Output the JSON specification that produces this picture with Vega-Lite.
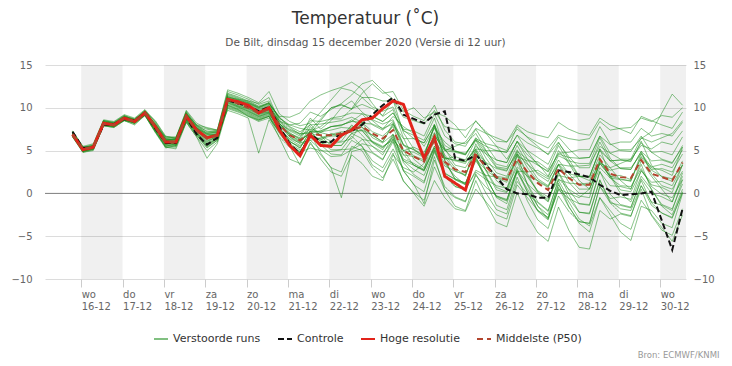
{
  "$schema": "https://vega.github.io/schema/vega-lite/v6.json",
  "width": 641,
  "height": 214,
  "autosize": "none",
  "padding": {"left": 45, "top": 65, "right": 46, "bottom": 87},
  "background": "white",
  "config": {"view": {"stroke": null}, "font": "DejaVu Sans"},
  "title": {
    "text": "Temperatuur (˚C)",
    "subtitle": "De Bilt, dinsdag 15 december 2020 (Versie di 12 uur)",
    "anchor": "middle",
    "frame": "group",
    "font": "DejaVu Sans",
    "fontSize": 17,
    "fontWeight": "normal",
    "color": "#333333",
    "subtitleFont": "DejaVu Sans",
    "subtitleFontSize": 10.5,
    "subtitleColor": "#555555",
    "subtitlePadding": 10,
    "offset": 11
  },
  "datasets": {
    "bands": [
      {"s": 0, "e": 24}, {"s": 48, "e": 72}, {"s": 96, "e": 120}, {"s": 144, "e": 168},
      {"s": 192, "e": 216}, {"s": 240, "e": 264}, {"s": 288, "e": 312}, {"s": 336, "e": 351}
    ],
    "ctl": [
      {"h":-5,"v":7.2},{"h":1,"v":5.3},{"h":7,"v":5.4},{"h":13,"v":8.0},{"h":19,"v":8.1},{"h":25,"v":8.7},{"h":31,"v":8.5},{"h":37,"v":9.4},
      {"h":43,"v":7.6},{"h":49,"v":5.9},{"h":55,"v":5.9},{"h":61,"v":8.9},{"h":67,"v":6.9},{"h":73,"v":5.7},{"h":79,"v":6.5},
      {"h":85,"v":10.9},{"h":91,"v":10.5},{"h":97,"v":10.2},{"h":103,"v":9.6},{"h":109,"v":10.1},
      {"h":115,"v":7.8},{"h":121,"v":5.8},{"h":127,"v":4.6},{"h":133,"v":6.9},
      {"h":139,"v":6.0},{"h":145,"v":6.0},{"h":151,"v":7.1},{"h":157,"v":7.3},
      {"h":163,"v":8.0},{"h":169,"v":9.2},{"h":175,"v":10.3},{"h":181,"v":11.2},
      {"h":187,"v":9.2},{"h":193,"v":8.7},{"h":199,"v":8.2},{"h":205,"v":9.2},
      {"h":211,"v":9.6},{"h":217,"v":4.1},{"h":223,"v":3.8},{"h":229,"v":4.5},
      {"h":235,"v":3.3},{"h":241,"v":1.9},{"h":247,"v":0.5},{"h":253,"v":0.0},
      {"h":259,"v":-0.1},{"h":265,"v":-0.5},{"h":271,"v":-0.5},{"h":277,"v":2.7},
      {"h":283,"v":2.5},{"h":289,"v":2.2},{"h":295,"v":1.9},{"h":301,"v":1.0},
      {"h":307,"v":0.3},{"h":313,"v":-0.2},{"h":319,"v":-0.1},{"h":325,"v":0.0},
      {"h":331,"v":0.2},{"h":337,"v":-3.2},{"h":343,"v":-6.6},{"h":349,"v":-1.8}
    ],
    "hres": [
      {"h":-5,"v":6.9},{"h":1,"v":5.1},{"h":7,"v":5.4},{"h":13,"v":8.2},{"h":19,"v":8.0},{"h":25,"v":8.8},{"h":31,"v":8.4},{"h":37,"v":9.4},
      {"h":43,"v":7.8},{"h":49,"v":6.0},{"h":55,"v":6.0},{"h":61,"v":9.0},{"h":67,"v":7.4},{"h":73,"v":6.5},{"h":79,"v":6.8},
      {"h":85,"v":11.0},{"h":91,"v":10.7},{"h":97,"v":10.3},{"h":103,"v":9.4},{"h":109,"v":10.0},
      {"h":115,"v":7.4},{"h":121,"v":5.6},{"h":127,"v":4.4},{"h":133,"v":6.8},
      {"h":139,"v":5.6},{"h":145,"v":5.5},{"h":151,"v":6.8},{"h":157,"v":7.4},
      {"h":163,"v":8.6},{"h":169,"v":8.8},{"h":175,"v":9.9},{"h":181,"v":10.8},
      {"h":187,"v":10.4},{"h":193,"v":7.2},{"h":199,"v":4.1},{"h":205,"v":6.5},
      {"h":211,"v":2.0},{"h":217,"v":1.2},{"h":223,"v":0.4},{"h":229,"v":4.6}
    ],
    "p50": [
      {"h":-5,"v":6.9},{"h":1,"v":5.2},{"h":7,"v":5.4},{"h":13,"v":8.1},{"h":19,"v":8.0},{"h":25,"v":8.8},{"h":31,"v":8.4},{"h":37,"v":9.4},
      {"h":43,"v":7.8},{"h":49,"v":6.0},{"h":55,"v":6.0},{"h":61,"v":9.0},{"h":67,"v":7.3},{"h":73,"v":6.4},{"h":79,"v":6.8},
      {"h":85,"v":10.9},{"h":91,"v":10.5},{"h":97,"v":10.0},{"h":103,"v":9.4},{"h":109,"v":9.8},
      {"h":115,"v":8.0},{"h":121,"v":6.8},{"h":127,"v":6.2},{"h":133,"v":7.0},
      {"h":139,"v":6.8},{"h":145,"v":6.8},{"h":151,"v":7.0},{"h":157,"v":7.4},
      {"h":163,"v":7.8},{"h":169,"v":7.0},{"h":175,"v":6.4},{"h":181,"v":7.4},
      {"h":187,"v":5.0},{"h":193,"v":4.3},{"h":199,"v":3.7},{"h":205,"v":6.3},
      {"h":211,"v":3.7},{"h":217,"v":2.8},{"h":223,"v":2.5},{"h":229,"v":4.5},
      {"h":235,"v":3.1},{"h":241,"v":1.9},{"h":247,"v":1.6},{"h":253,"v":4.1},
      {"h":259,"v":2.5},{"h":265,"v":1.2},{"h":271,"v":0.4},{"h":277,"v":2.9},
      {"h":283,"v":1.8},{"h":289,"v":1.0},{"h":295,"v":1.0},{"h":301,"v":4.0},
      {"h":307,"v":2.3},{"h":313,"v":1.9},{"h":319,"v":1.8},{"h":325,"v":3.9},
      {"h":331,"v":2.3},{"h":337,"v":1.9},{"h":343,"v":1.5},{"h":349,"v":3.6}
    ],
    "ens": [
      {"m":1,"h":-5,"v":7.0},{"m":1,"h":1,"v":5.3},{"m":1,"h":7,"v":5.5},{"m":1,"h":13,"v":8.4},{"m":1,"h":19,"v":8.2},{"m":1,"h":25,"v":9.0},{"m":1,"h":31,"v":8.6},{"m":1,"h":37,"v":9.5},{"m":1,"h":43,"v":8.1},{"m":1,"h":49,"v":6.3},{"m":1,"h":55,"v":6.3},{"m":1,"h":61,"v":9.3},{"m":1,"h":67,"v":7.7},{"m":1,"h":73,"v":7.1},{"m":1,"h":79,"v":7.1},{"m":1,"h":85,"v":11.2},{"m":1,"h":91,"v":10.8},{"m":1,"h":97,"v":10.3},{"m":1,"h":103,"v":9.7},{"m":1,"h":109,"v":10.1},{"m":1,"h":115,"v":8.2},{"m":1,"h":121,"v":6.8},{"m":1,"h":127,"v":6.2},{"m":1,"h":133,"v":7.0},{"m":1,"h":139,"v":7.3},{"m":1,"h":145,"v":7.8},{"m":1,"h":151,"v":8.0},{"m":1,"h":157,"v":8.4},{"m":1,"h":163,"v":9.3},{"m":1,"h":169,"v":9.0},{"m":1,"h":175,"v":8.4},{"m":1,"h":181,"v":9.4},{"m":1,"h":187,"v":7.5},{"m":1,"h":193,"v":7.3},{"m":1,"h":199,"v":6.7},{"m":1,"h":205,"v":9.3},{"m":1,"h":211,"v":6.7},{"m":1,"h":217,"v":5.8},{"m":1,"h":223,"v":5.5},{"m":1,"h":229,"v":7.5},{"m":1,"h":235,"v":5.6},{"m":1,"h":241,"v":3.9},{"m":1,"h":247,"v":3.6},{"m":1,"h":253,"v":6.1},{"m":1,"h":259,"v":4.0},{"m":1,"h":265,"v":2.2},{"m":1,"h":271,"v":1.4},{"m":1,"h":277,"v":3.9},{"m":1,"h":283,"v":2.3},{"m":1,"h":289,"v":1.0},{"m":1,"h":295,"v":1.0},{"m":1,"h":301,"v":4.0},{"m":1,"h":307,"v":1.8},{"m":1,"h":313,"v":0.9},{"m":1,"h":319,"v":0.8},{"m":1,"h":325,"v":2.9},{"m":1,"h":331,"v":0.8},{"m":1,"h":337,"v":-0.1},{"m":1,"h":343,"v":-0.5},{"m":1,"h":349,"v":1.6},
      {"m":2,"h":-5,"v":6.7},{"m":2,"h":1,"v":4.9},{"m":2,"h":7,"v":5.2},{"m":2,"h":13,"v":8.0},{"m":2,"h":19,"v":7.8},{"m":2,"h":25,"v":8.6},{"m":2,"h":31,"v":8.2},{"m":2,"h":37,"v":9.2},{"m":2,"h":43,"v":7.4},{"m":2,"h":49,"v":5.6},{"m":2,"h":55,"v":5.6},{"m":2,"h":61,"v":8.6},{"m":2,"h":67,"v":7.0},{"m":2,"h":73,"v":5.7},{"m":2,"h":79,"v":6.4},{"m":2,"h":85,"v":10.3},{"m":2,"h":91,"v":9.9},{"m":2,"h":97,"v":9.4},{"m":2,"h":103,"v":8.8},{"m":2,"h":109,"v":9.2},{"m":2,"h":115,"v":7.6},{"m":2,"h":121,"v":6.1},{"m":2,"h":127,"v":5.3},{"m":2,"h":133,"v":7.3},{"m":2,"h":139,"v":5.7},{"m":2,"h":145,"v":4.6},{"m":2,"h":151,"v":4.5},{"m":2,"h":157,"v":6.2},{"m":2,"h":163,"v":5.5},{"m":2,"h":169,"v":3.8},{"m":2,"h":175,"v":3.0},{"m":2,"h":181,"v":5.2},{"m":2,"h":187,"v":2.7},{"m":2,"h":193,"v":2.0},{"m":2,"h":199,"v":1.2},{"m":2,"h":205,"v":5.1},{"m":2,"h":211,"v":2.4},{"m":2,"h":217,"v":1.6},{"m":2,"h":223,"v":1.0},{"m":2,"h":229,"v":4.3},{"m":2,"h":235,"v":1.8},{"m":2,"h":241,"v":-0.4},{"m":2,"h":247,"v":-0.9},{"m":2,"h":253,"v":2.9},{"m":2,"h":259,"v":0.2},{"m":2,"h":265,"v":-2.1},{"m":2,"h":271,"v":-3.1},{"m":2,"h":277,"v":0.7},{"m":2,"h":283,"v":-1.6},{"m":2,"h":289,"v":-3.3},{"m":2,"h":295,"v":-3.5},{"m":2,"h":301,"v":0.8},{"m":2,"h":307,"v":-1.1},{"m":2,"h":313,"v":-1.4},{"m":2,"h":319,"v":-1.7},{"m":2,"h":325,"v":1.7},{"m":2,"h":331,"v":0.0},{"m":2,"h":337,"v":-0.4},{"m":2,"h":343,"v":-1.0},{"m":2,"h":349,"v":2.4},
      {"m":3,"h":-5,"v":7.2},{"m":3,"h":1,"v":5.4},{"m":3,"h":7,"v":5.7},{"m":3,"h":13,"v":8.5},{"m":3,"h":19,"v":8.3},{"m":3,"h":25,"v":9.1},{"m":3,"h":31,"v":8.7},{"m":3,"h":37,"v":9.7},{"m":3,"h":43,"v":8.3},{"m":3,"h":49,"v":6.5},{"m":3,"h":55,"v":6.5},{"m":3,"h":61,"v":9.5},{"m":3,"h":67,"v":7.9},{"m":3,"h":73,"v":7.5},{"m":3,"h":79,"v":7.3},{"m":3,"h":85,"v":11.7},{"m":3,"h":91,"v":11.3},{"m":3,"h":97,"v":10.8},{"m":3,"h":103,"v":10.2},{"m":3,"h":109,"v":10.6},{"m":3,"h":115,"v":8.8},{"m":3,"h":121,"v":8.0},{"m":3,"h":127,"v":7.6},{"m":3,"h":133,"v":7.4},{"m":3,"h":139,"v":8.7},{"m":3,"h":145,"v":10.0},{"m":3,"h":151,"v":10.4},{"m":3,"h":157,"v":9.8},{"m":3,"h":163,"v":11.2},{"m":3,"h":169,"v":11.2},{"m":3,"h":175,"v":10.8},{"m":3,"h":181,"v":10.8},{"m":3,"h":187,"v":8.9},{"m":3,"h":193,"v":8.5},{"m":3,"h":199,"v":8.1},{"m":3,"h":205,"v":9.7},{"m":3,"h":211,"v":7.8},{"m":3,"h":217,"v":7.5},{"m":3,"h":223,"v":7.4},{"m":3,"h":229,"v":8.4},{"m":3,"h":235,"v":7.2},{"m":3,"h":241,"v":6.1},{"m":3,"h":247,"v":6.0},{"m":3,"h":253,"v":7.5},{"m":3,"h":259,"v":6.6},{"m":3,"h":265,"v":5.9},{"m":3,"h":271,"v":5.3},{"m":3,"h":277,"v":6.8},{"m":3,"h":283,"v":6.4},{"m":3,"h":289,"v":6.2},{"m":3,"h":295,"v":6.4},{"m":3,"h":301,"v":8.4},{"m":3,"h":307,"v":7.4},{"m":3,"h":313,"v":7.6},{"m":3,"h":319,"v":7.7},{"m":3,"h":325,"v":8.8},{"m":3,"h":331,"v":8.4},{"m":3,"h":337,"v":9.1},{"m":3,"h":343,"v":8.9},{"m":3,"h":349,"v":10.0},
      {"m":4,"h":-5,"v":6.6},{"m":4,"h":1,"v":4.8},{"m":4,"h":7,"v":5.1},{"m":4,"h":13,"v":7.9},{"m":4,"h":19,"v":7.7},{"m":4,"h":25,"v":8.5},{"m":4,"h":31,"v":8.1},{"m":4,"h":37,"v":9.1},{"m":4,"h":43,"v":7.2},{"m":4,"h":49,"v":5.4},{"m":4,"h":55,"v":5.4},{"m":4,"h":61,"v":8.4},{"m":4,"h":67,"v":6.8},{"m":4,"h":73,"v":5.3},{"m":4,"h":79,"v":6.2},{"m":4,"h":85,"v":9.9},{"m":4,"h":91,"v":9.5},{"m":4,"h":97,"v":9.0},{"m":4,"h":103,"v":8.4},{"m":4,"h":109,"v":8.8},{"m":4,"h":115,"v":7.2},{"m":4,"h":121,"v":5.5},{"m":4,"h":127,"v":4.7},{"m":4,"h":133,"v":7.0},{"m":4,"h":139,"v":4.7},{"m":4,"h":145,"v":3.0},{"m":4,"h":151,"v":-0.5},{"m":4,"h":157,"v":4.9},{"m":4,"h":163,"v":5.2},{"m":4,"h":169,"v":4.7},{"m":4,"h":175,"v":3.9},{"m":4,"h":181,"v":6.4},{"m":4,"h":187,"v":2.7},{"m":4,"h":193,"v":1.0},{"m":4,"h":199,"v":0.2},{"m":4,"h":205,"v":4.3},{"m":4,"h":211,"v":0.4},{"m":4,"h":217,"v":-1.5},{"m":4,"h":223,"v":-2.0},{"m":4,"h":229,"v":1.5},{"m":4,"h":235,"v":-1.2},{"m":4,"h":241,"v":-3.4},{"m":4,"h":247,"v":-3.9},{"m":4,"h":253,"v":0.1},{"m":4,"h":259,"v":-2.6},{"m":4,"h":265,"v":-4.6},{"m":4,"h":271,"v":-5.6},{"m":4,"h":277,"v":-1.6},{"m":4,"h":283,"v":-4.3},{"m":4,"h":289,"v":-6.3},{"m":4,"h":295,"v":-6.5},{"m":4,"h":301,"v":-2.0},{"m":4,"h":307,"v":-3.0},{"m":4,"h":313,"v":-2.4},{"m":4,"h":319,"v":-2.7},{"m":4,"h":325,"v":0.9},{"m":4,"h":331,"v":-1.0},{"m":4,"h":337,"v":-1.4},{"m":4,"h":343,"v":-2.0},{"m":4,"h":349,"v":1.6},
      {"m":5,"h":-5,"v":7.0},{"m":5,"h":1,"v":5.2},{"m":5,"h":7,"v":5.5},{"m":5,"h":13,"v":8.3},{"m":5,"h":19,"v":8.1},{"m":5,"h":25,"v":8.9},{"m":5,"h":31,"v":8.5},{"m":5,"h":37,"v":9.5},{"m":5,"h":43,"v":8.0},{"m":5,"h":49,"v":6.2},{"m":5,"h":55,"v":6.2},{"m":5,"h":61,"v":9.2},{"m":5,"h":67,"v":7.6},{"m":5,"h":73,"v":6.9},{"m":5,"h":79,"v":7.0},{"m":5,"h":85,"v":11.4},{"m":5,"h":91,"v":11.0},{"m":5,"h":97,"v":10.5},{"m":5,"h":103,"v":9.9},{"m":5,"h":109,"v":10.3},{"m":5,"h":115,"v":8.5},{"m":5,"h":121,"v":7.3},{"m":5,"h":127,"v":6.7},{"m":5,"h":133,"v":7.5},{"m":5,"h":139,"v":7.1},{"m":5,"h":145,"v":6.8},{"m":5,"h":151,"v":7.0},{"m":5,"h":157,"v":7.4},{"m":5,"h":163,"v":7.3},{"m":5,"h":169,"v":6.0},{"m":5,"h":175,"v":5.4},{"m":5,"h":181,"v":6.4},{"m":5,"h":187,"v":4.5},{"m":5,"h":193,"v":4.3},{"m":5,"h":199,"v":3.7},{"m":5,"h":205,"v":6.3},{"m":5,"h":211,"v":4.2},{"m":5,"h":217,"v":3.8},{"m":5,"h":223,"v":3.5},{"m":5,"h":229,"v":5.5},{"m":5,"h":235,"v":4.6},{"m":5,"h":241,"v":3.9},{"m":5,"h":247,"v":3.6},{"m":5,"h":253,"v":6.1},{"m":5,"h":259,"v":5.0},{"m":5,"h":265,"v":4.2},{"m":5,"h":271,"v":3.4},{"m":5,"h":277,"v":5.9},{"m":5,"h":283,"v":4.3},{"m":5,"h":289,"v":3.0},{"m":5,"h":295,"v":3.0},{"m":5,"h":301,"v":6.0},{"m":5,"h":307,"v":3.8},{"m":5,"h":313,"v":2.9},{"m":5,"h":319,"v":2.8},{"m":5,"h":325,"v":4.9},{"m":5,"h":331,"v":3.8},{"m":5,"h":337,"v":3.9},{"m":5,"h":343,"v":3.5},{"m":5,"h":349,"v":5.6},
      {"m":6,"h":-5,"v":6.8},{"m":6,"h":1,"v":5.0},{"m":6,"h":7,"v":5.3},{"m":6,"h":13,"v":8.1},{"m":6,"h":19,"v":7.9},{"m":6,"h":25,"v":8.7},{"m":6,"h":31,"v":8.3},{"m":6,"h":37,"v":9.3},{"m":6,"h":43,"v":7.6},{"m":6,"h":49,"v":5.8},{"m":6,"h":55,"v":5.8},{"m":6,"h":61,"v":8.8},{"m":6,"h":67,"v":7.2},{"m":6,"h":73,"v":6.1},{"m":6,"h":79,"v":6.6},{"m":6,"h":85,"v":10.9},{"m":6,"h":91,"v":10.5},{"m":6,"h":97,"v":10.0},{"m":6,"h":103,"v":9.4},{"m":6,"h":109,"v":9.8},{"m":6,"h":115,"v":8.0},{"m":6,"h":121,"v":6.6},{"m":6,"h":127,"v":6.0},{"m":6,"h":133,"v":7.3},{"m":6,"h":139,"v":7.8},{"m":6,"h":145,"v":8.8},{"m":6,"h":151,"v":9.0},{"m":6,"h":157,"v":9.4},{"m":6,"h":163,"v":9.3},{"m":6,"h":169,"v":8.0},{"m":6,"h":175,"v":7.4},{"m":6,"h":181,"v":8.4},{"m":6,"h":187,"v":5.0},{"m":6,"h":193,"v":3.3},{"m":6,"h":199,"v":2.7},{"m":6,"h":205,"v":5.3},{"m":6,"h":211,"v":2.2},{"m":6,"h":217,"v":0.8},{"m":6,"h":223,"v":0.5},{"m":6,"h":229,"v":2.5},{"m":6,"h":235,"v":1.6},{"m":6,"h":241,"v":0.9},{"m":6,"h":247,"v":0.6},{"m":6,"h":253,"v":3.1},{"m":6,"h":259,"v":2.0},{"m":6,"h":265,"v":1.5},{"m":6,"h":271,"v":0.8},{"m":6,"h":277,"v":3.4},{"m":6,"h":283,"v":2.3},{"m":6,"h":289,"v":2.0},{"m":6,"h":295,"v":2.0},{"m":6,"h":301,"v":5.0},{"m":6,"h":307,"v":3.8},{"m":6,"h":313,"v":3.9},{"m":6,"h":319,"v":3.8},{"m":6,"h":325,"v":5.9},{"m":6,"h":331,"v":4.8},{"m":6,"h":337,"v":4.9},{"m":6,"h":343,"v":4.5},{"m":6,"h":349,"v":6.6},
      {"m":7,"h":-5,"v":6.7},{"m":7,"h":1,"v":4.9},{"m":7,"h":7,"v":5.2},{"m":7,"h":13,"v":8.0},{"m":7,"h":19,"v":7.8},{"m":7,"h":25,"v":8.6},{"m":7,"h":31,"v":8.2},{"m":7,"h":37,"v":9.2},{"m":7,"h":43,"v":7.3},{"m":7,"h":49,"v":5.5},{"m":7,"h":55,"v":5.5},{"m":7,"h":61,"v":8.5},{"m":7,"h":67,"v":6.9},{"m":7,"h":73,"v":5.5},{"m":7,"h":79,"v":6.3},{"m":7,"h":85,"v":10.1},{"m":7,"h":91,"v":9.7},{"m":7,"h":97,"v":9.2},{"m":7,"h":103,"v":8.6},{"m":7,"h":109,"v":9.0},{"m":7,"h":115,"v":7.2},{"m":7,"h":121,"v":5.6},{"m":7,"h":127,"v":4.8},{"m":7,"h":133,"v":6.6},{"m":7,"h":139,"v":5.9},{"m":7,"h":145,"v":5.6},{"m":7,"h":151,"v":5.6},{"m":7,"h":157,"v":7.0},{"m":7,"h":163,"v":7.4},{"m":7,"h":169,"v":6.8},{"m":7,"h":175,"v":6.0},{"m":7,"h":181,"v":8.0},{"m":7,"h":187,"v":5.6},{"m":7,"h":193,"v":5.1},{"m":7,"h":199,"v":4.3},{"m":7,"h":205,"v":7.9},{"m":7,"h":211,"v":4.3},{"m":7,"h":217,"v":2.6},{"m":7,"h":223,"v":2.1},{"m":7,"h":229,"v":5.1},{"m":7,"h":235,"v":2.7},{"m":7,"h":241,"v":0.7},{"m":7,"h":247,"v":0.2},{"m":7,"h":253,"v":3.7},{"m":7,"h":259,"v":1.1},{"m":7,"h":265,"v":-1.0},{"m":7,"h":271,"v":-2.0},{"m":7,"h":277,"v":1.5},{"m":7,"h":283,"v":-0.6},{"m":7,"h":289,"v":-2.2},{"m":7,"h":295,"v":-2.4},{"m":7,"h":301,"v":1.6},{"m":7,"h":307,"v":-1.1},{"m":7,"h":313,"v":-2.3},{"m":7,"h":319,"v":-2.6},{"m":7,"h":325,"v":0.5},{"m":7,"h":331,"v":-2.6},{"m":7,"h":337,"v":-4.3},{"m":7,"h":343,"v":-4.9},{"m":7,"h":349,"v":-1.8},
      {"m":8,"h":-5,"v":7.3},{"m":8,"h":1,"v":5.5},{"m":8,"h":7,"v":5.8},{"m":8,"h":13,"v":8.6},{"m":8,"h":19,"v":8.4},{"m":8,"h":25,"v":9.2},{"m":8,"h":31,"v":8.8},{"m":8,"h":37,"v":9.8},{"m":8,"h":43,"v":8.4},{"m":8,"h":49,"v":6.6},{"m":8,"h":55,"v":6.6},{"m":8,"h":61,"v":9.6},{"m":8,"h":67,"v":8.0},{"m":8,"h":73,"v":7.7},{"m":8,"h":79,"v":7.4},{"m":8,"h":85,"v":12.1},{"m":8,"h":91,"v":11.7},{"m":8,"h":97,"v":11.2},{"m":8,"h":103,"v":10.6},{"m":8,"h":109,"v":11.9},{"m":8,"h":115,"v":9.3},{"m":8,"h":121,"v":8.4},{"m":8,"h":127,"v":7.9},{"m":8,"h":133,"v":8.2},{"m":8,"h":139,"v":9.5},{"m":8,"h":145,"v":10.9},{"m":8,"h":151,"v":12.3},{"m":8,"h":157,"v":12.0},{"m":8,"h":163,"v":11.2},{"m":8,"h":169,"v":10.1},{"m":8,"h":175,"v":9.6},{"m":8,"h":181,"v":10.1},{"m":8,"h":187,"v":7.4},{"m":8,"h":193,"v":6.4},{"m":8,"h":199,"v":5.9},{"m":8,"h":205,"v":8.0},{"m":8,"h":211,"v":5.1},{"m":8,"h":217,"v":3.9},{"m":8,"h":223,"v":3.7},{"m":8,"h":229,"v":5.2},{"m":8,"h":235,"v":3.5},{"m":8,"h":241,"v":2.0},{"m":8,"h":247,"v":1.8},{"m":8,"h":253,"v":3.8},{"m":8,"h":259,"v":1.9},{"m":8,"h":265,"v":0.3},{"m":8,"h":271,"v":-0.4},{"m":8,"h":277,"v":1.6},{"m":8,"h":283,"v":1.2},{"m":8,"h":289,"v":1.1},{"m":8,"h":295,"v":1.2},{"m":8,"h":301,"v":3.7},{"m":8,"h":307,"v":2.7},{"m":8,"h":313,"v":3.0},{"m":8,"h":319,"v":3.0},{"m":8,"h":325,"v":4.6},{"m":8,"h":331,"v":2.7},{"m":8,"h":337,"v":2.0},{"m":8,"h":343,"v":1.7},{"m":8,"h":349,"v":3.3},
      {"m":9,"h":-5,"v":7.0},{"m":9,"h":1,"v":5.2},{"m":9,"h":7,"v":5.4},{"m":9,"h":13,"v":8.3},{"m":9,"h":19,"v":8.1},{"m":9,"h":25,"v":8.8},{"m":9,"h":31,"v":8.5},{"m":9,"h":37,"v":9.4},{"m":9,"h":43,"v":7.9},{"m":9,"h":49,"v":6.1},{"m":9,"h":55,"v":6.1},{"m":9,"h":61,"v":9.1},{"m":9,"h":67,"v":7.5},{"m":9,"h":73,"v":6.7},{"m":9,"h":79,"v":6.9},{"m":9,"h":85,"v":10.6},{"m":9,"h":91,"v":10.2},{"m":9,"h":97,"v":9.7},{"m":9,"h":103,"v":9.1},{"m":9,"h":109,"v":9.5},{"m":9,"h":115,"v":7.5},{"m":9,"h":121,"v":6.4},{"m":9,"h":127,"v":5.9},{"m":9,"h":133,"v":6.2},{"m":9,"h":139,"v":6.5},{"m":9,"h":145,"v":6.9},{"m":9,"h":151,"v":7.2},{"m":9,"h":157,"v":7.1},{"m":9,"h":163,"v":8.2},{"m":9,"h":169,"v":8.1},{"m":9,"h":175,"v":7.6},{"m":9,"h":181,"v":8.1},{"m":9,"h":187,"v":6.4},{"m":9,"h":193,"v":6.4},{"m":9,"h":199,"v":5.9},{"m":9,"h":205,"v":8.0},{"m":9,"h":211,"v":5.6},{"m":9,"h":217,"v":4.9},{"m":9,"h":223,"v":4.7},{"m":9,"h":229,"v":6.2},{"m":9,"h":235,"v":5.5},{"m":9,"h":241,"v":5.0},{"m":9,"h":247,"v":4.8},{"m":9,"h":253,"v":6.8},{"m":9,"h":259,"v":4.9},{"m":9,"h":265,"v":3.3},{"m":9,"h":271,"v":2.6},{"m":9,"h":277,"v":4.6},{"m":9,"h":283,"v":4.2},{"m":9,"h":289,"v":4.1},{"m":9,"h":295,"v":4.2},{"m":9,"h":301,"v":6.7},{"m":9,"h":307,"v":5.7},{"m":9,"h":313,"v":6.0},{"m":9,"h":319,"v":6.0},{"m":9,"h":325,"v":7.6},{"m":9,"h":331,"v":6.7},{"m":9,"h":337,"v":7.0},{"m":9,"h":343,"v":6.7},{"m":9,"h":349,"v":8.3},
      {"m":10,"h":-5,"v":6.7},{"m":10,"h":1,"v":4.9},{"m":10,"h":7,"v":5.2},{"m":10,"h":13,"v":8.0},{"m":10,"h":19,"v":7.8},{"m":10,"h":25,"v":8.6},{"m":10,"h":31,"v":8.3},{"m":10,"h":37,"v":9.2},{"m":10,"h":43,"v":7.5},{"m":10,"h":49,"v":5.7},{"m":10,"h":55,"v":5.7},{"m":10,"h":61,"v":8.7},{"m":10,"h":67,"v":7.1},{"m":10,"h":73,"v":5.9},{"m":10,"h":79,"v":6.5},{"m":10,"h":85,"v":11.1},{"m":10,"h":91,"v":10.7},{"m":10,"h":97,"v":10.2},{"m":10,"h":103,"v":9.6},{"m":10,"h":109,"v":10.0},{"m":10,"h":115,"v":8.5},{"m":10,"h":121,"v":7.1},{"m":10,"h":127,"v":6.3},{"m":10,"h":133,"v":8.1},{"m":10,"h":139,"v":6.7},{"m":10,"h":145,"v":5.6},{"m":10,"h":151,"v":5.6},{"m":10,"h":157,"v":7.0},{"m":10,"h":163,"v":6.4},{"m":10,"h":169,"v":4.8},{"m":10,"h":175,"v":4.0},{"m":10,"h":181,"v":6.0},{"m":10,"h":187,"v":2.6},{"m":10,"h":193,"v":1.1},{"m":10,"h":199,"v":-1.2},{"m":10,"h":205,"v":3.9},{"m":10,"h":211,"v":0.8},{"m":10,"h":217,"v":-0.4},{"m":10,"h":223,"v":-0.9},{"m":10,"h":229,"v":2.1},{"m":10,"h":235,"v":0.7},{"m":10,"h":241,"v":-0.3},{"m":10,"h":247,"v":-0.8},{"m":10,"h":253,"v":2.7},{"m":10,"h":259,"v":1.1},{"m":10,"h":265,"v":0.0},{"m":10,"h":271,"v":-1.0},{"m":10,"h":277,"v":2.5},{"m":10,"h":283,"v":0.4},{"m":10,"h":289,"v":-1.2},{"m":10,"h":295,"v":-1.4},{"m":10,"h":301,"v":2.6},{"m":10,"h":307,"v":-0.1},{"m":10,"h":313,"v":-1.3},{"m":10,"h":319,"v":-1.6},{"m":10,"h":325,"v":1.5},{"m":10,"h":331,"v":-1.1},{"m":10,"h":337,"v":-2.3},{"m":10,"h":343,"v":-2.9},{"m":10,"h":349,"v":0.2},
      {"m":11,"h":-5,"v":7.1},{"m":11,"h":1,"v":5.3},{"m":11,"h":7,"v":5.6},{"m":11,"h":13,"v":8.4},{"m":11,"h":19,"v":8.2},{"m":11,"h":25,"v":9.0},{"m":11,"h":31,"v":8.6},{"m":11,"h":37,"v":9.6},{"m":11,"h":43,"v":8.2},{"m":11,"h":49,"v":6.4},{"m":11,"h":55,"v":6.4},{"m":11,"h":61,"v":9.4},{"m":11,"h":67,"v":7.8},{"m":11,"h":73,"v":7.3},{"m":11,"h":79,"v":7.2},{"m":11,"h":85,"v":9.7},{"m":11,"h":91,"v":9.3},{"m":11,"h":97,"v":8.8},{"m":11,"h":103,"v":4.7},{"m":11,"h":109,"v":8.6},{"m":11,"h":115,"v":6.6},{"m":11,"h":121,"v":5.4},{"m":11,"h":127,"v":4.8},{"m":11,"h":133,"v":5.3},{"m":11,"h":139,"v":5.0},{"m":11,"h":145,"v":4.9},{"m":11,"h":151,"v":5.1},{"m":11,"h":157,"v":5.2},{"m":11,"h":163,"v":6.3},{"m":11,"h":169,"v":6.1},{"m":11,"h":175,"v":5.5},{"m":11,"h":181,"v":6.2},{"m":11,"h":187,"v":5.0},{"m":11,"h":193,"v":5.4},{"m":11,"h":199,"v":4.8},{"m":11,"h":205,"v":7.1},{"m":11,"h":211,"v":5.2},{"m":11,"h":217,"v":4.9},{"m":11,"h":223,"v":4.6},{"m":11,"h":229,"v":6.3},{"m":11,"h":235,"v":4.6},{"m":11,"h":241,"v":3.0},{"m":11,"h":247,"v":2.7},{"m":11,"h":253,"v":4.9},{"m":11,"h":259,"v":4.0},{"m":11,"h":265,"v":3.3},{"m":11,"h":271,"v":2.5},{"m":11,"h":277,"v":4.7},{"m":11,"h":283,"v":4.8},{"m":11,"h":289,"v":5.1},{"m":11,"h":295,"v":5.1},{"m":11,"h":301,"v":7.8},{"m":11,"h":307,"v":5.8},{"m":11,"h":313,"v":5.0},{"m":11,"h":319,"v":4.9},{"m":11,"h":325,"v":6.7},{"m":11,"h":331,"v":4.8},{"m":11,"h":337,"v":4.0},{"m":11,"h":343,"v":3.6},{"m":11,"h":349,"v":5.4},
      {"m":12,"h":-5,"v":6.9},{"m":12,"h":1,"v":5.0},{"m":12,"h":7,"v":5.5},{"m":12,"h":13,"v":8.1},{"m":12,"h":19,"v":8.0},{"m":12,"h":25,"v":8.7},{"m":12,"h":31,"v":8.4},{"m":12,"h":37,"v":9.3},{"m":12,"h":43,"v":7.7},{"m":12,"h":49,"v":6.1},{"m":12,"h":55,"v":5.9},{"m":12,"h":61,"v":9.1},{"m":12,"h":67,"v":7.3},{"m":12,"h":73,"v":6.4},{"m":12,"h":79,"v":6.9},{"m":12,"h":85,"v":11.3},{"m":12,"h":91,"v":10.9},{"m":12,"h":97,"v":10.4},{"m":12,"h":103,"v":9.8},{"m":12,"h":109,"v":10.2},{"m":12,"h":115,"v":8.2},{"m":12,"h":121,"v":6.9},{"m":12,"h":127,"v":6.0},{"m":12,"h":133,"v":7.2},{"m":12,"h":139,"v":7.3},{"m":12,"h":145,"v":7.8},{"m":12,"h":151,"v":8.0},{"m":12,"h":157,"v":8.4},{"m":12,"h":163,"v":8.3},{"m":12,"h":169,"v":7.2},{"m":12,"h":175,"v":6.7},{"m":12,"h":181,"v":7.8},{"m":12,"h":187,"v":4.5},{"m":12,"h":193,"v":3.3},{"m":12,"h":199,"v":2.7},{"m":12,"h":205,"v":5.3},{"m":12,"h":211,"v":3.2},{"m":12,"h":217,"v":2.6},{"m":12,"h":223,"v":2.2},{"m":12,"h":229,"v":4.8},{"m":12,"h":235,"v":3.6},{"m":12,"h":241,"v":2.9},{"m":12,"h":247,"v":2.6},{"m":12,"h":253,"v":5.1},{"m":12,"h":259,"v":3.0},{"m":12,"h":265,"v":1.4},{"m":12,"h":271,"v":0.7},{"m":12,"h":277,"v":3.3},{"m":12,"h":283,"v":1.3},{"m":12,"h":289,"v":0.0},{"m":12,"h":295,"v":0.0},{"m":12,"h":301,"v":3.0},{"m":12,"h":307,"v":1.8},{"m":12,"h":313,"v":1.6},{"m":12,"h":319,"v":1.5},{"m":12,"h":325,"v":4.2},{"m":12,"h":331,"v":2.8},{"m":12,"h":337,"v":2.9},{"m":12,"h":343,"v":2.5},{"m":12,"h":349,"v":4.6},
      {"m":13,"h":-5,"v":6.8},{"m":13,"h":1,"v":5.1},{"m":13,"h":7,"v":5.3},{"m":13,"h":13,"v":8.2},{"m":13,"h":19,"v":7.9},{"m":13,"h":25,"v":8.8},{"m":13,"h":31,"v":8.4},{"m":13,"h":37,"v":9.3},{"m":13,"h":43,"v":7.7},{"m":13,"h":49,"v":5.9},{"m":13,"h":55,"v":5.9},{"m":13,"h":61,"v":8.9},{"m":13,"h":67,"v":7.3},{"m":13,"h":73,"v":6.3},{"m":13,"h":79,"v":6.7},{"m":13,"h":85,"v":11.5},{"m":13,"h":91,"v":11.1},{"m":13,"h":97,"v":10.6},{"m":13,"h":103,"v":10.0},{"m":13,"h":109,"v":10.4},{"m":13,"h":115,"v":8.9},{"m":13,"h":121,"v":7.7},{"m":13,"h":127,"v":6.9},{"m":13,"h":133,"v":8.5},{"m":13,"h":139,"v":8.4},{"m":13,"h":145,"v":8.7},{"m":13,"h":151,"v":8.7},{"m":13,"h":157,"v":9.9},{"m":13,"h":163,"v":10.4},{"m":13,"h":169,"v":9.9},{"m":13,"h":175,"v":9.1},{"m":13,"h":181,"v":10.9},{"m":13,"h":187,"v":7.1},{"m":13,"h":193,"v":5.2},{"m":13,"h":199,"v":4.4},{"m":13,"h":205,"v":7.8},{"m":13,"h":211,"v":3.8},{"m":13,"h":217,"v":1.7},{"m":13,"h":223,"v":1.2},{"m":13,"h":229,"v":4.0},{"m":13,"h":235,"v":1.7},{"m":13,"h":241,"v":-0.3},{"m":13,"h":247,"v":-0.7},{"m":13,"h":253,"v":2.6},{"m":13,"h":259,"v":0.1},{"m":13,"h":265,"v":-2.0},{"m":13,"h":271,"v":-2.9},{"m":13,"h":277,"v":0.4},{"m":13,"h":283,"v":-0.6},{"m":13,"h":289,"v":-1.2},{"m":13,"h":295,"v":-1.3},{"m":13,"h":301,"v":2.5},{"m":13,"h":307,"v":0.9},{"m":13,"h":313,"v":0.8},{"m":13,"h":319,"v":0.5},{"m":13,"h":325,"v":3.4},{"m":13,"h":331,"v":0.4},{"m":13,"h":337,"v":-1.3},{"m":13,"h":343,"v":-1.8},{"m":13,"h":349,"v":1.1},
      {"m":14,"h":-5,"v":6.6},{"m":14,"h":1,"v":4.8},{"m":14,"h":7,"v":5.0},{"m":14,"h":13,"v":7.9},{"m":14,"h":19,"v":7.7},{"m":14,"h":25,"v":8.5},{"m":14,"h":31,"v":8.0},{"m":14,"h":37,"v":9.1},{"m":14,"h":43,"v":7.1},{"m":14,"h":49,"v":5.3},{"m":14,"h":55,"v":5.6},{"m":14,"h":61,"v":8.3},{"m":14,"h":67,"v":6.6},{"m":14,"h":73,"v":5.0},{"m":14,"h":79,"v":6.0},{"m":14,"h":85,"v":10.4},{"m":14,"h":91,"v":10.0},{"m":14,"h":97,"v":9.5},{"m":14,"h":103,"v":8.9},{"m":14,"h":109,"v":9.3},{"m":14,"h":115,"v":7.7},{"m":14,"h":121,"v":6.1},{"m":14,"h":127,"v":5.3},{"m":14,"h":133,"v":7.3},{"m":14,"h":139,"v":6.0},{"m":14,"h":145,"v":5.1},{"m":14,"h":151,"v":5.1},{"m":14,"h":157,"v":6.7},{"m":14,"h":163,"v":5.5},{"m":14,"h":169,"v":3.3},{"m":14,"h":175,"v":2.5},{"m":14,"h":181,"v":4.7},{"m":14,"h":187,"v":1.4},{"m":14,"h":193,"v":0.1},{"m":14,"h":199,"v":-0.8},{"m":14,"h":205,"v":3.1},{"m":14,"h":211,"v":0.4},{"m":14,"h":217,"v":-0.5},{"m":14,"h":223,"v":-1.0},{"m":14,"h":229,"v":2.3},{"m":14,"h":235,"v":0.0},{"m":14,"h":241,"v":-1.9},{"m":14,"h":247,"v":-2.4},{"m":14,"h":253,"v":1.4},{"m":14,"h":259,"v":-0.1},{"m":14,"h":265,"v":-1.1},{"m":14,"h":271,"v":-2.1},{"m":14,"h":277,"v":1.7},{"m":14,"h":283,"v":0.5},{"m":14,"h":289,"v":-0.3},{"m":14,"h":295,"v":-0.5},{"m":14,"h":301,"v":3.8},{"m":14,"h":307,"v":2.0},{"m":14,"h":313,"v":1.7},{"m":14,"h":319,"v":1.4},{"m":14,"h":325,"v":4.7},{"m":14,"h":331,"v":3.0},{"m":14,"h":337,"v":2.7},{"m":14,"h":343,"v":2.1},{"m":14,"h":349,"v":5.4},
      {"m":15,"h":-5,"v":7.1},{"m":15,"h":1,"v":5.2},{"m":15,"h":7,"v":5.6},{"m":15,"h":13,"v":8.3},{"m":15,"h":19,"v":8.2},{"m":15,"h":25,"v":8.9},{"m":15,"h":31,"v":8.6},{"m":15,"h":37,"v":9.6},{"m":15,"h":43,"v":8.0},{"m":15,"h":49,"v":6.4},{"m":15,"h":55,"v":6.2},{"m":15,"h":61,"v":9.4},{"m":15,"h":67,"v":7.6},{"m":15,"h":73,"v":7.0},{"m":15,"h":79,"v":7.2},{"m":15,"h":85,"v":10.7},{"m":15,"h":91,"v":10.3},{"m":15,"h":97,"v":9.8},{"m":15,"h":103,"v":9.2},{"m":15,"h":109,"v":9.6},{"m":15,"h":115,"v":8.1},{"m":15,"h":121,"v":7.4},{"m":15,"h":127,"v":6.9},{"m":15,"h":133,"v":7.2},{"m":15,"h":139,"v":7.2},{"m":15,"h":145,"v":7.4},{"m":15,"h":151,"v":7.7},{"m":15,"h":157,"v":7.6},{"m":15,"h":163,"v":8.7},{"m":15,"h":169,"v":8.6},{"m":15,"h":175,"v":8.1},{"m":15,"h":181,"v":8.6},{"m":15,"h":187,"v":5.7},{"m":15,"h":193,"v":4.4},{"m":15,"h":199,"v":3.9},{"m":15,"h":205,"v":6.0},{"m":15,"h":211,"v":4.1},{"m":15,"h":217,"v":3.9},{"m":15,"h":223,"v":3.7},{"m":15,"h":229,"v":5.2},{"m":15,"h":235,"v":5.0},{"m":15,"h":241,"v":5.0},{"m":15,"h":247,"v":4.8},{"m":15,"h":253,"v":6.8},{"m":15,"h":259,"v":5.9},{"m":15,"h":265,"v":5.3},{"m":15,"h":271,"v":4.6},{"m":15,"h":277,"v":6.6},{"m":15,"h":283,"v":5.2},{"m":15,"h":289,"v":4.1},{"m":15,"h":295,"v":4.2},{"m":15,"h":301,"v":6.7},{"m":15,"h":307,"v":4.7},{"m":15,"h":313,"v":4.0},{"m":15,"h":319,"v":4.0},{"m":15,"h":325,"v":5.6},{"m":15,"h":331,"v":5.2},{"m":15,"h":337,"v":6.0},{"m":15,"h":343,"v":5.7},{"m":15,"h":349,"v":7.3},
      {"m":16,"h":-5,"v":6.8},{"m":16,"h":1,"v":5.0},{"m":16,"h":7,"v":5.2},{"m":16,"h":13,"v":8.0},{"m":16,"h":19,"v":7.9},{"m":16,"h":25,"v":8.6},{"m":16,"h":31,"v":8.3},{"m":16,"h":37,"v":9.2},{"m":16,"h":43,"v":7.4},{"m":16,"h":49,"v":5.8},{"m":16,"h":55,"v":5.9},{"m":16,"h":61,"v":8.6},{"m":16,"h":67,"v":7.0},{"m":16,"h":73,"v":5.8},{"m":16,"h":79,"v":6.4},{"m":16,"h":85,"v":10.2},{"m":16,"h":91,"v":9.8},{"m":16,"h":97,"v":9.3},{"m":16,"h":103,"v":8.7},{"m":16,"h":109,"v":9.1},{"m":16,"h":115,"v":7.2},{"m":16,"h":121,"v":5.7},{"m":16,"h":127,"v":4.9},{"m":16,"h":133,"v":6.5},{"m":16,"h":139,"v":6.4},{"m":16,"h":145,"v":6.7},{"m":16,"h":151,"v":6.7},{"m":16,"h":157,"v":7.9},{"m":16,"h":163,"v":7.4},{"m":16,"h":169,"v":5.9},{"m":16,"h":175,"v":5.1},{"m":16,"h":181,"v":6.9},{"m":16,"h":187,"v":3.6},{"m":16,"h":193,"v":2.2},{"m":16,"h":199,"v":1.4},{"m":16,"h":205,"v":4.8},{"m":16,"h":211,"v":2.3},{"m":16,"h":217,"v":1.7},{"m":16,"h":223,"v":1.2},{"m":16,"h":229,"v":4.0},{"m":16,"h":235,"v":2.7},{"m":16,"h":241,"v":1.8},{"m":16,"h":247,"v":1.3},{"m":16,"h":253,"v":4.6},{"m":16,"h":259,"v":2.1},{"m":16,"h":265,"v":0.1},{"m":16,"h":271,"v":-0.9},{"m":16,"h":277,"v":2.4},{"m":16,"h":283,"v":-0.1},{"m":16,"h":289,"v":-2.2},{"m":16,"h":295,"v":-2.3},{"m":16,"h":301,"v":1.5},{"m":16,"h":307,"v":-0.9},{"m":16,"h":313,"v":-1.8},{"m":16,"h":319,"v":-2.0},{"m":16,"h":325,"v":0.9},{"m":16,"h":331,"v":-1.4},{"m":16,"h":337,"v":-2.3},{"m":16,"h":343,"v":-2.8},{"m":16,"h":349,"v":0.1},
      {"m":17,"h":-5,"v":7.2},{"m":17,"h":1,"v":5.4},{"m":17,"h":7,"v":5.6},{"m":17,"h":13,"v":8.5},{"m":17,"h":19,"v":8.2},{"m":17,"h":25,"v":9.0},{"m":17,"h":31,"v":8.7},{"m":17,"h":37,"v":9.6},{"m":17,"h":43,"v":8.5},{"m":17,"h":49,"v":6.7},{"m":17,"h":55,"v":6.4},{"m":17,"h":61,"v":9.7},{"m":17,"h":67,"v":8.2},{"m":17,"h":73,"v":7.6},{"m":17,"h":79,"v":7.4},{"m":17,"h":85,"v":11.9},{"m":17,"h":91,"v":11.5},{"m":17,"h":97,"v":11.0},{"m":17,"h":103,"v":10.4},{"m":17,"h":109,"v":10.8},{"m":17,"h":115,"v":8.7},{"m":17,"h":121,"v":7.5},{"m":17,"h":127,"v":7.0},{"m":17,"h":133,"v":7.0},{"m":17,"h":139,"v":8.5},{"m":17,"h":145,"v":10.0},{"m":17,"h":151,"v":10.3},{"m":17,"h":157,"v":9.9},{"m":17,"h":163,"v":11.7},{"m":17,"h":169,"v":12.8},{"m":17,"h":175,"v":11.7},{"m":17,"h":181,"v":11.9},{"m":17,"h":187,"v":9.7},{"m":17,"h":193,"v":9.0},{"m":17,"h":199,"v":8.5},{"m":17,"h":205,"v":10.3},{"m":17,"h":211,"v":7.4},{"m":17,"h":217,"v":6.0},{"m":17,"h":223,"v":5.8},{"m":17,"h":229,"v":7.0},{"m":17,"h":235,"v":5.0},{"m":17,"h":241,"v":3.1},{"m":17,"h":247,"v":2.9},{"m":17,"h":253,"v":4.6},{"m":17,"h":259,"v":3.4},{"m":17,"h":265,"v":2.4},{"m":17,"h":271,"v":1.7},{"m":17,"h":277,"v":3.4},{"m":17,"h":283,"v":3.2},{"m":17,"h":289,"v":3.2},{"m":17,"h":295,"v":3.3},{"m":17,"h":301,"v":5.5},{"m":17,"h":307,"v":4.7},{"m":17,"h":313,"v":5.1},{"m":17,"h":319,"v":5.1},{"m":17,"h":325,"v":6.4},{"m":17,"h":331,"v":7.2},{"m":17,"h":337,"v":9.4},{"m":17,"h":343,"v":11.6},{"m":17,"h":349,"v":10.3},
      {"m":18,"h":-5,"v":6.9},{"m":18,"h":1,"v":5.3},{"m":18,"h":7,"v":5.4},{"m":18,"h":13,"v":8.4},{"m":18,"h":19,"v":8.0},{"m":18,"h":25,"v":8.9},{"m":18,"h":31,"v":8.4},{"m":18,"h":37,"v":9.6},{"m":18,"h":43,"v":7.9},{"m":18,"h":49,"v":6.0},{"m":18,"h":55,"v":6.3},{"m":18,"h":61,"v":9.1},{"m":18,"h":67,"v":7.7},{"m":18,"h":73,"v":6.9},{"m":18,"h":79,"v":6.8},{"m":18,"h":85,"v":11.0},{"m":18,"h":91,"v":10.6},{"m":18,"h":97,"v":10.1},{"m":18,"h":103,"v":9.5},{"m":18,"h":109,"v":9.9},{"m":18,"h":115,"v":8.2},{"m":18,"h":121,"v":6.6},{"m":18,"h":127,"v":5.8},{"m":18,"h":133,"v":7.8},{"m":18,"h":139,"v":6.7},{"m":18,"h":145,"v":6.1},{"m":18,"h":151,"v":6.1},{"m":18,"h":157,"v":7.7},{"m":18,"h":163,"v":7.7},{"m":18,"h":169,"v":6.8},{"m":18,"h":175,"v":6.0},{"m":18,"h":181,"v":8.2},{"m":18,"h":187,"v":5.7},{"m":18,"h":193,"v":5.1},{"m":18,"h":199,"v":4.3},{"m":18,"h":205,"v":8.1},{"m":18,"h":211,"v":3.9},{"m":18,"h":217,"v":1.6},{"m":18,"h":223,"v":1.1},{"m":18,"h":229,"v":4.3},{"m":18,"h":235,"v":1.3},{"m":18,"h":241,"v":-1.4},{"m":18,"h":247,"v":-1.9},{"m":18,"h":253,"v":1.9},{"m":18,"h":259,"v":-0.9},{"m":18,"h":265,"v":-3.1},{"m":18,"h":271,"v":-4.1},{"m":18,"h":277,"v":-0.3},{"m":18,"h":283,"v":-2.1},{"m":18,"h":289,"v":-3.3},{"m":18,"h":295,"v":-3.5},{"m":18,"h":301,"v":0.8},{"m":18,"h":307,"v":-0.6},{"m":18,"h":313,"v":-0.4},{"m":18,"h":319,"v":-0.7},{"m":18,"h":325,"v":2.7},{"m":18,"h":331,"v":1.0},{"m":18,"h":337,"v":0.7},{"m":18,"h":343,"v":0.1},{"m":18,"h":349,"v":3.4},
      {"m":19,"h":-5,"v":6.6},{"m":19,"h":1,"v":5.0},{"m":19,"h":7,"v":5.1},{"m":19,"h":13,"v":7.9},{"m":19,"h":19,"v":7.9},{"m":19,"h":25,"v":8.5},{"m":19,"h":31,"v":8.3},{"m":19,"h":37,"v":9.1},{"m":19,"h":43,"v":7.2},{"m":19,"h":49,"v":5.5},{"m":19,"h":55,"v":5.8},{"m":19,"h":61,"v":8.5},{"m":19,"h":67,"v":6.8},{"m":19,"h":73,"v":5.4},{"m":19,"h":79,"v":6.2},{"m":19,"h":85,"v":10.5},{"m":19,"h":91,"v":10.1},{"m":19,"h":97,"v":9.6},{"m":19,"h":103,"v":9.0},{"m":19,"h":109,"v":9.4},{"m":19,"h":115,"v":7.3},{"m":19,"h":121,"v":5.8},{"m":19,"h":127,"v":5.1},{"m":19,"h":133,"v":6.2},{"m":19,"h":139,"v":5.1},{"m":19,"h":145,"v":4.3},{"m":19,"h":151,"v":4.4},{"m":19,"h":157,"v":5.1},{"m":19,"h":163,"v":5.8},{"m":19,"h":169,"v":5.5},{"m":19,"h":175,"v":4.8},{"m":19,"h":181,"v":6.1},{"m":19,"h":187,"v":3.8},{"m":19,"h":193,"v":3.3},{"m":19,"h":199,"v":2.6},{"m":19,"h":205,"v":5.5},{"m":19,"h":211,"v":4.0},{"m":19,"h":217,"v":4.3},{"m":19,"h":223,"v":3.9},{"m":19,"h":229,"v":6.2},{"m":19,"h":235,"v":4.1},{"m":19,"h":241,"v":2.4},{"m":19,"h":247,"v":2.0},{"m":19,"h":253,"v":4.8},{"m":19,"h":259,"v":2.3},{"m":19,"h":265,"v":0.2},{"m":19,"h":271,"v":-0.7},{"m":19,"h":277,"v":2.1},{"m":19,"h":283,"v":1.8},{"m":19,"h":289,"v":2.0},{"m":19,"h":295,"v":1.9},{"m":19,"h":301,"v":5.2},{"m":19,"h":307,"v":3.8},{"m":19,"h":313,"v":3.9},{"m":19,"h":319,"v":3.7},{"m":19,"h":325,"v":6.1},{"m":19,"h":331,"v":3.3},{"m":19,"h":337,"v":1.9},{"m":19,"h":343,"v":1.4},{"m":19,"h":349,"v":3.8},
      {"m":20,"h":-5,"v":7.3},{"m":20,"h":1,"v":5.4},{"m":20,"h":7,"v":5.5},{"m":20,"h":13,"v":8.5},{"m":20,"h":19,"v":8.3},{"m":20,"h":25,"v":9.1},{"m":20,"h":31,"v":8.5},{"m":20,"h":37,"v":9.7},{"m":20,"h":43,"v":8.0},{"m":20,"h":49,"v":6.6},{"m":20,"h":55,"v":6.5},{"m":20,"h":61,"v":9.3},{"m":20,"h":67,"v":8.0},{"m":20,"h":73,"v":7.2},{"m":20,"h":79,"v":7.3},{"m":20,"h":85,"v":11.6},{"m":20,"h":91,"v":11.2},{"m":20,"h":97,"v":10.7},{"m":20,"h":103,"v":10.1},{"m":20,"h":109,"v":10.5},{"m":20,"h":115,"v":8.9},{"m":20,"h":121,"v":7.8},{"m":20,"h":127,"v":7.2},{"m":20,"h":133,"v":8.0},{"m":20,"h":139,"v":8.1},{"m":20,"h":145,"v":8.3},{"m":20,"h":151,"v":8.5},{"m":20,"h":157,"v":8.9},{"m":20,"h":163,"v":8.3},{"m":20,"h":169,"v":6.5},{"m":20,"h":175,"v":5.9},{"m":20,"h":181,"v":6.9},{"m":20,"h":187,"v":5.0},{"m":20,"h":193,"v":4.8},{"m":20,"h":199,"v":4.2},{"m":20,"h":205,"v":6.8},{"m":20,"h":211,"v":5.0},{"m":20,"h":217,"v":4.8},{"m":20,"h":223,"v":4.5},{"m":20,"h":229,"v":6.5},{"m":20,"h":235,"v":4.9},{"m":20,"h":241,"v":3.4},{"m":20,"h":247,"v":3.1},{"m":20,"h":253,"v":5.6},{"m":20,"h":259,"v":3.5},{"m":20,"h":265,"v":1.7},{"m":20,"h":271,"v":0.9},{"m":20,"h":277,"v":3.4},{"m":20,"h":283,"v":1.8},{"m":20,"h":289,"v":0.5},{"m":20,"h":295,"v":0.5},{"m":20,"h":301,"v":3.5},{"m":20,"h":307,"v":2.0},{"m":20,"h":313,"v":2.1},{"m":20,"h":319,"v":1.6},{"m":20,"h":325,"v":4.3},{"m":20,"h":331,"v":3.1},{"m":20,"h":337,"v":3.4},{"m":20,"h":343,"v":3.0},{"m":20,"h":349,"v":5.1},
      {"m":21,"h":-5,"v":6.9},{"m":21,"h":1,"v":4.9},{"m":21,"h":7,"v":5.4},{"m":21,"h":13,"v":8.0},{"m":21,"h":19,"v":8.0},{"m":21,"h":25,"v":8.6},{"m":21,"h":31,"v":8.2},{"m":21,"h":37,"v":9.4},{"m":21,"h":43,"v":7.7},{"m":21,"h":49,"v":5.7},{"m":21,"h":55,"v":6.0},{"m":21,"h":61,"v":8.9},{"m":21,"h":67,"v":7.1},{"m":21,"h":73,"v":6.0},{"m":21,"h":79,"v":6.7},{"m":21,"h":85,"v":10.8},{"m":21,"h":91,"v":10.2},{"m":21,"h":97,"v":9.9},{"m":21,"h":103,"v":9.3},{"m":21,"h":109,"v":9.5},{"m":21,"h":115,"v":7.9},{"m":21,"h":121,"v":6.9},{"m":21,"h":127,"v":6.4},{"m":21,"h":133,"v":6.9},{"m":21,"h":139,"v":6.3},{"m":21,"h":145,"v":5.8},{"m":21,"h":151,"v":6.0},{"m":21,"h":157,"v":6.4},{"m":21,"h":163,"v":8.3},{"m":21,"h":169,"v":9.0},{"m":21,"h":175,"v":8.4},{"m":21,"h":181,"v":9.4},{"m":21,"h":187,"v":7.3},{"m":21,"h":193,"v":6.8},{"m":21,"h":199,"v":6.2},{"m":21,"h":205,"v":8.8},{"m":21,"h":211,"v":5.2},{"m":21,"h":217,"v":3.3},{"m":21,"h":223,"v":3.0},{"m":21,"h":229,"v":5.0},{"m":21,"h":235,"v":2.6},{"m":21,"h":241,"v":0.4},{"m":21,"h":247,"v":0.1},{"m":21,"h":253,"v":2.6},{"m":21,"h":259,"v":2.5},{"m":21,"h":265,"v":2.7},{"m":21,"h":271,"v":1.9},{"m":21,"h":277,"v":4.4},{"m":21,"h":283,"v":3.8},{"m":21,"h":289,"v":3.5},{"m":21,"h":295,"v":3.5},{"m":21,"h":301,"v":6.5},{"m":21,"h":307,"v":4.1},{"m":21,"h":313,"v":2.9},{"m":21,"h":319,"v":2.8},{"m":21,"h":325,"v":4.9},{"m":21,"h":331,"v":2.3},{"m":21,"h":337,"v":0.9},{"m":21,"h":343,"v":0.5},{"m":21,"h":349,"v":2.6},
      {"m":22,"h":-5,"v":7.0},{"m":22,"h":1,"v":5.1},{"m":22,"h":7,"v":5.5},{"m":22,"h":13,"v":8.2},{"m":22,"h":19,"v":8.1},{"m":22,"h":25,"v":8.8},{"m":22,"h":31,"v":8.5},{"m":22,"h":37,"v":9.4},{"m":22,"h":43,"v":7.8},{"m":22,"h":49,"v":6.2},{"m":22,"h":55,"v":6.0},{"m":22,"h":61,"v":9.0},{"m":22,"h":67,"v":7.6},{"m":22,"h":73,"v":6.8},{"m":22,"h":79,"v":6.9},{"m":22,"h":85,"v":10.8},{"m":22,"h":91,"v":10.4},{"m":22,"h":97,"v":9.9},{"m":22,"h":103,"v":9.3},{"m":22,"h":109,"v":9.7},{"m":22,"h":115,"v":7.7},{"m":22,"h":121,"v":6.3},{"m":22,"h":127,"v":5.6},{"m":22,"h":133,"v":6.7},{"m":22,"h":139,"v":7.1},{"m":22,"h":145,"v":7.8},{"m":22,"h":151,"v":7.9},{"m":22,"h":157,"v":8.6},{"m":22,"h":163,"v":7.8},{"m":22,"h":169,"v":6.0},{"m":22,"h":175,"v":5.3},{"m":22,"h":181,"v":6.6},{"m":22,"h":187,"v":3.8},{"m":22,"h":193,"v":2.8},{"m":22,"h":199,"v":2.1},{"m":22,"h":205,"v":5.0},{"m":22,"h":211,"v":2.0},{"m":22,"h":217,"v":0.8},{"m":22,"h":223,"v":0.4},{"m":22,"h":229,"v":2.7},{"m":22,"h":235,"v":2.1},{"m":22,"h":241,"v":1.9},{"m":22,"h":247,"v":1.5},{"m":22,"h":253,"v":4.3},{"m":22,"h":259,"v":3.8},{"m":22,"h":265,"v":3.7},{"m":22,"h":271,"v":2.8},{"m":22,"h":277,"v":5.6},{"m":22,"h":283,"v":3.6},{"m":22,"h":289,"v":2.0},{"m":22,"h":295,"v":1.9},{"m":22,"h":301,"v":5.2},{"m":22,"h":307,"v":2.1},{"m":22,"h":313,"v":0.4},{"m":22,"h":319,"v":0.2},{"m":22,"h":325,"v":2.6},{"m":22,"h":331,"v":1.3},{"m":22,"h":337,"v":1.4},{"m":22,"h":343,"v":0.9},{"m":22,"h":349,"v":3.3},
      {"m":23,"h":-5,"v":7.1},{"m":23,"h":1,"v":5.2},{"m":23,"h":7,"v":5.6},{"m":23,"h":13,"v":8.3},{"m":23,"h":19,"v":8.1},{"m":23,"h":25,"v":8.9},{"m":23,"h":31,"v":8.6},{"m":23,"h":37,"v":9.5},{"m":23,"h":43,"v":8.0},{"m":23,"h":49,"v":6.2},{"m":23,"h":55,"v":6.4},{"m":23,"h":61,"v":9.2},{"m":23,"h":67,"v":7.6},{"m":23,"h":73,"v":6.6},{"m":23,"h":79,"v":7.0},{"m":23,"h":85,"v":11.3},{"m":23,"h":91,"v":10.9},{"m":23,"h":97,"v":10.6},{"m":23,"h":103,"v":10.1},{"m":23,"h":109,"v":10.5},{"m":23,"h":115,"v":9.0},{"m":23,"h":121,"v":8.9},{"m":23,"h":127,"v":9.4},{"m":23,"h":133,"v":10.8},{"m":23,"h":139,"v":11.5},{"m":23,"h":145,"v":12.0},{"m":23,"h":151,"v":12.4},{"m":23,"h":157,"v":13.0},{"m":23,"h":163,"v":12.2},{"m":23,"h":169,"v":10.5},{"m":23,"h":175,"v":9.0},{"m":23,"h":181,"v":9.8},{"m":23,"h":187,"v":6.5},{"m":23,"h":193,"v":4.0},{"m":23,"h":199,"v":3.0},{"m":23,"h":205,"v":5.5},{"m":23,"h":211,"v":3.5},{"m":23,"h":217,"v":2.0},{"m":23,"h":223,"v":1.0},{"m":23,"h":229,"v":3.8},{"m":23,"h":235,"v":2.0},{"m":23,"h":241,"v":-0.5},{"m":23,"h":247,"v":-1.2},{"m":23,"h":253,"v":2.5},{"m":23,"h":259,"v":0.5},{"m":23,"h":265,"v":-1.5},{"m":23,"h":271,"v":-2.5},{"m":23,"h":277,"v":1.0},{"m":23,"h":283,"v":-1.0},{"m":23,"h":289,"v":-3.0},{"m":23,"h":295,"v":-3.8},{"m":23,"h":301,"v":-0.5},{"m":23,"h":307,"v":-2.0},{"m":23,"h":313,"v":-3.5},{"m":23,"h":319,"v":-4.2},{"m":23,"h":325,"v":-0.8},{"m":23,"h":331,"v":-2.5},{"m":23,"h":337,"v":-4.0},{"m":23,"h":343,"v":-5.6},{"m":23,"h":349,"v":-2.5},
      {"m":24,"h":-5,"v":6.8},{"m":24,"h":1,"v":5.0},{"m":24,"h":7,"v":5.3},{"m":24,"h":13,"v":8.1},{"m":24,"h":19,"v":7.9},{"m":24,"h":25,"v":8.8},{"m":24,"h":31,"v":8.3},{"m":24,"h":37,"v":9.3},{"m":24,"h":43,"v":7.6},{"m":24,"h":49,"v":5.9},{"m":24,"h":55,"v":5.7},{"m":24,"h":61,"v":8.8},{"m":24,"h":67,"v":7.1},{"m":24,"h":73,"v":5.6},{"m":24,"h":79,"v":6.4},{"m":24,"h":85,"v":10.3},{"m":24,"h":91,"v":9.8},{"m":24,"h":97,"v":9.0},{"m":24,"h":103,"v":8.6},{"m":24,"h":109,"v":9.0},{"m":24,"h":115,"v":7.0},{"m":24,"h":121,"v":5.5},{"m":24,"h":127,"v":3.3},{"m":24,"h":133,"v":6.0},{"m":24,"h":139,"v":4.0},{"m":24,"h":145,"v":2.5},{"m":24,"h":151,"v":2.0},{"m":24,"h":157,"v":4.5},{"m":24,"h":163,"v":3.5},{"m":24,"h":169,"v":2.0},{"m":24,"h":175,"v":1.5},{"m":24,"h":181,"v":4.5},{"m":24,"h":187,"v":3.0},{"m":24,"h":193,"v":2.5},{"m":24,"h":199,"v":3.5},{"m":24,"h":205,"v":6.8},{"m":24,"h":211,"v":5.0},{"m":24,"h":217,"v":5.5},{"m":24,"h":223,"v":6.0},{"m":24,"h":229,"v":7.6},{"m":24,"h":235,"v":7.0},{"m":24,"h":241,"v":6.5},{"m":24,"h":247,"v":6.0},{"m":24,"h":253,"v":8.0},{"m":24,"h":259,"v":7.2},{"m":24,"h":265,"v":6.8},{"m":24,"h":271,"v":6.5},{"m":24,"h":277,"v":8.3},{"m":24,"h":283,"v":7.5},{"m":24,"h":289,"v":7.0},{"m":24,"h":295,"v":6.8},{"m":24,"h":301,"v":8.8},{"m":24,"h":307,"v":8.0},{"m":24,"h":313,"v":7.5},{"m":24,"h":319,"v":7.0},{"m":24,"h":325,"v":9.0},{"m":24,"h":331,"v":8.5},{"m":24,"h":337,"v":8.0},{"m":24,"h":343,"v":7.6},{"m":24,"h":349,"v":9.5},
      {"m":25,"h":-5,"v":7.0},{"m":25,"h":1,"v":5.3},{"m":25,"h":7,"v":5.4},{"m":25,"h":13,"v":8.2},{"m":25,"h":19,"v":8.1},{"m":25,"h":25,"v":8.8},{"m":25,"h":31,"v":8.5},{"m":25,"h":37,"v":9.5},{"m":25,"h":43,"v":7.9},{"m":25,"h":49,"v":6.2},{"m":25,"h":55,"v":6.0},{"m":25,"h":61,"v":9.0},{"m":25,"h":67,"v":7.5},{"m":25,"h":73,"v":6.6},{"m":25,"h":79,"v":6.8},{"m":25,"h":85,"v":11.2},{"m":25,"h":91,"v":11.0},{"m":25,"h":97,"v":10.8},{"m":25,"h":103,"v":10.5},{"m":25,"h":109,"v":11.2},{"m":25,"h":115,"v":8.4},{"m":25,"h":121,"v":8.0},{"m":25,"h":127,"v":8.2},{"m":25,"h":133,"v":9.5},{"m":25,"h":139,"v":9.0},{"m":25,"h":145,"v":9.8},{"m":25,"h":151,"v":10.5},{"m":25,"h":157,"v":11.5},{"m":25,"h":163,"v":12.8},{"m":25,"h":169,"v":13.2},{"m":25,"h":175,"v":12.0},{"m":25,"h":181,"v":11.0},{"m":25,"h":187,"v":9.5},{"m":25,"h":193,"v":10.0},{"m":25,"h":199,"v":8.8},{"m":25,"h":205,"v":9.5},{"m":25,"h":211,"v":9.0},{"m":25,"h":217,"v":8.0},{"m":25,"h":223,"v":6.5},{"m":25,"h":229,"v":8.5},{"m":25,"h":235,"v":7.0},{"m":25,"h":241,"v":5.5},{"m":25,"h":247,"v":4.0},{"m":25,"h":253,"v":6.0},{"m":25,"h":259,"v":4.5},{"m":25,"h":265,"v":3.5},{"m":25,"h":271,"v":2.0},{"m":25,"h":277,"v":5.0},{"m":25,"h":283,"v":3.5},{"m":25,"h":289,"v":1.5},{"m":25,"h":295,"v":0.5},{"m":25,"h":301,"v":3.5},{"m":25,"h":307,"v":2.0},{"m":25,"h":313,"v":0.0},{"m":25,"h":319,"v":-1.0},{"m":25,"h":325,"v":2.0},{"m":25,"h":331,"v":0.5},{"m":25,"h":337,"v":-1.5},{"m":25,"h":343,"v":-2.5},{"m":25,"h":349,"v":0.5},
      {"m":26,"h":-5,"v":6.7},{"m":26,"h":1,"v":5.0},{"m":26,"h":7,"v":5.3},{"m":26,"h":13,"v":8.0},{"m":26,"h":19,"v":7.8},{"m":26,"h":25,"v":8.7},{"m":26,"h":31,"v":8.2},{"m":26,"h":37,"v":9.2},{"m":26,"h":43,"v":7.3},{"m":26,"h":49,"v":5.4},{"m":26,"h":55,"v":5.2},{"m":26,"h":61,"v":8.3},{"m":26,"h":67,"v":6.6},{"m":26,"h":73,"v":4.1},{"m":26,"h":79,"v":5.8},{"m":26,"h":85,"v":10.0},{"m":26,"h":91,"v":9.6},{"m":26,"h":97,"v":9.1},{"m":26,"h":103,"v":8.5},{"m":26,"h":109,"v":9.0},{"m":26,"h":115,"v":6.5},{"m":26,"h":121,"v":4.0},{"m":26,"h":127,"v":3.5},{"m":26,"h":133,"v":5.8},{"m":26,"h":139,"v":4.5},{"m":26,"h":145,"v":3.0},{"m":26,"h":151,"v":2.5},{"m":26,"h":157,"v":5.5},{"m":26,"h":163,"v":5.0},{"m":26,"h":169,"v":3.0},{"m":26,"h":175,"v":1.8},{"m":26,"h":181,"v":4.0},{"m":26,"h":187,"v":1.5},{"m":26,"h":193,"v":0.0},{"m":26,"h":199,"v":-1.5},{"m":26,"h":205,"v":1.5},{"m":26,"h":211,"v":-0.5},{"m":26,"h":217,"v":-1.8},{"m":26,"h":223,"v":-2.1},{"m":26,"h":229,"v":0.5},{"m":26,"h":235,"v":-1.0},{"m":26,"h":241,"v":-2.5},{"m":26,"h":247,"v":-3.0},{"m":26,"h":253,"v":1.0},{"m":26,"h":259,"v":-0.5},{"m":26,"h":265,"v":-2.0},{"m":26,"h":271,"v":-2.8},{"m":26,"h":277,"v":0.5},{"m":26,"h":283,"v":0.0},{"m":26,"h":289,"v":-0.5},{"m":26,"h":295,"v":0.5},{"m":26,"h":301,"v":3.5},{"m":26,"h":307,"v":3.0},{"m":26,"h":313,"v":3.5},{"m":26,"h":319,"v":4.0},{"m":26,"h":325,"v":6.5},{"m":26,"h":331,"v":6.0},{"m":26,"h":337,"v":6.5},{"m":26,"h":343,"v":7.0},{"m":26,"h":349,"v":8.5},
      {"m":27,"h":-5,"v":7.1},{"m":27,"h":1,"v":5.3},{"m":27,"h":7,"v":5.5},{"m":27,"h":13,"v":8.3},{"m":27,"h":19,"v":8.1},{"m":27,"h":25,"v":8.9},{"m":27,"h":31,"v":8.5},{"m":27,"h":37,"v":9.5},{"m":27,"h":43,"v":8.1},{"m":27,"h":49,"v":6.3},{"m":27,"h":55,"v":6.3},{"m":27,"h":61,"v":9.3},{"m":27,"h":67,"v":7.9},{"m":27,"h":73,"v":7.0},{"m":27,"h":79,"v":7.1},{"m":27,"h":85,"v":11.1},{"m":27,"h":91,"v":10.8},{"m":27,"h":97,"v":10.5},{"m":27,"h":103,"v":10.0},{"m":27,"h":109,"v":10.6},{"m":27,"h":115,"v":8.2},{"m":27,"h":121,"v":7.0},{"m":27,"h":127,"v":6.5},{"m":27,"h":133,"v":8.8},{"m":27,"h":139,"v":7.5},{"m":27,"h":145,"v":8.5},{"m":27,"h":151,"v":10.0},{"m":27,"h":157,"v":10.8},{"m":27,"h":163,"v":9.5},{"m":27,"h":169,"v":8.5},{"m":27,"h":175,"v":7.5},{"m":27,"h":181,"v":9.0},{"m":27,"h":187,"v":7.8},{"m":27,"h":193,"v":7.0},{"m":27,"h":199,"v":5.5},{"m":27,"h":205,"v":7.6},{"m":27,"h":211,"v":6.0},{"m":27,"h":217,"v":5.0},{"m":27,"h":223,"v":4.5},{"m":27,"h":229,"v":6.4},{"m":27,"h":235,"v":5.8},{"m":27,"h":241,"v":5.5},{"m":27,"h":247,"v":5.0},{"m":27,"h":253,"v":7.8},{"m":27,"h":259,"v":6.5},{"m":27,"h":265,"v":5.5},{"m":27,"h":271,"v":4.5},{"m":27,"h":277,"v":6.0},{"m":27,"h":283,"v":4.0},{"m":27,"h":289,"v":2.0},{"m":27,"h":295,"v":1.5},{"m":27,"h":301,"v":4.5},{"m":27,"h":307,"v":3.0},{"m":27,"h":313,"v":1.5},{"m":27,"h":319,"v":0.5},{"m":27,"h":325,"v":3.8},{"m":27,"h":331,"v":2.0},{"m":27,"h":337,"v":0.5},{"m":27,"h":343,"v":-1.0},{"m":27,"h":349,"v":2.0},
      {"m":28,"h":-5,"v":6.9},{"m":28,"h":1,"v":5.1},{"m":28,"h":7,"v":5.4},{"m":28,"h":13,"v":8.1},{"m":28,"h":19,"v":8.0},{"m":28,"h":25,"v":8.8},{"m":28,"h":31,"v":8.4},{"m":28,"h":37,"v":9.3},{"m":28,"h":43,"v":7.7},{"m":28,"h":49,"v":6.0},{"m":28,"h":55,"v":5.9},{"m":28,"h":61,"v":8.9},{"m":28,"h":67,"v":7.3},{"m":28,"h":73,"v":6.2},{"m":28,"h":79,"v":6.6},{"m":28,"h":85,"v":10.6},{"m":28,"h":91,"v":10.1},{"m":28,"h":97,"v":9.6},{"m":28,"h":103,"v":9.0},{"m":28,"h":109,"v":9.4},{"m":28,"h":115,"v":7.5},{"m":28,"h":121,"v":6.0},{"m":28,"h":127,"v":5.5},{"m":28,"h":133,"v":6.5},{"m":28,"h":139,"v":6.2},{"m":28,"h":145,"v":7.0},{"m":28,"h":151,"v":6.5},{"m":28,"h":157,"v":8.0},{"m":28,"h":163,"v":6.8},{"m":28,"h":169,"v":5.5},{"m":28,"h":175,"v":4.5},{"m":28,"h":181,"v":6.8},{"m":28,"h":187,"v":4.0},{"m":28,"h":193,"v":3.5},{"m":28,"h":199,"v":2.8},{"m":28,"h":205,"v":7.0},{"m":28,"h":211,"v":4.5},{"m":28,"h":217,"v":3.0},{"m":28,"h":223,"v":2.0},{"m":28,"h":229,"v":5.8},{"m":28,"h":235,"v":3.5},{"m":28,"h":241,"v":1.5},{"m":28,"h":247,"v":0.5},{"m":28,"h":253,"v":4.5},{"m":28,"h":259,"v":1.0},{"m":28,"h":265,"v":-1.5},{"m":28,"h":271,"v":-3.0},{"m":28,"h":277,"v":1.2},{"m":28,"h":283,"v":-1.5},{"m":28,"h":289,"v":-3.5},{"m":28,"h":295,"v":-4.5},{"m":28,"h":301,"v":-0.5},{"m":28,"h":307,"v":-2.5},{"m":28,"h":313,"v":-4.5},{"m":28,"h":319,"v":-5.5},{"m":28,"h":325,"v":-1.5},{"m":28,"h":331,"v":-2.0},{"m":28,"h":337,"v":-3.5},{"m":28,"h":343,"v":-4.0},{"m":28,"h":349,"v":0.0}
    ]
  },
  "layer": [
    {
      "data": {"name": "bands"},
      "mark": {"type": "rect", "color": "rgba(0,0,0,0.06)"},
      "encoding": {
        "x": {
          "field": "s", "type": "quantitative",
          "scale": {"domain": [-21, 351], "nice": false, "zero": false},
          "axis": {
            "values": [0, 24, 48, 72, 96, 120, 144, 168, 192, 216, 240, 264, 288, 312, 336],
            "labelExpr": "[['wo','do','vr','za','zo','ma','di'][floor(datum.value/24) % 7], (16 + floor(datum.value/24)) + '-12']",
            "labelAlign": "left", "labelBaseline": "top", "labelFontSize": 10, "labelColor": "#666666",
            "labelLineHeight": 12, "labelPadding": 2, "labelOverlap": false, "labelBound": false, "labelFlush": false,
            "tickSize": 8, "tickColor": "#cccccc", "grid": false, "domain": false,
            "title": "Bron: ECMWF/KNMI", "titleFontSize": 8.5, "titleFontWeight": "normal", "titleColor": "#999999",
            "titleAnchor": "end", "titleAlign": "right", "titleX": 674, "titleY": 78, "titleBaseline": "alphabetic"
          }
        },
        "x2": {"field": "e"}
      }
    },
    {
      "data": {"values": [{}]},
      "mark": {"type": "rule", "color": "#808080", "strokeWidth": 1},
      "encoding": {
        "y": {"datum": 0, "type": "quantitative", "scale": {"domain": [-10, 15], "nice": false, "zero": false}, "axis": null}
      }
    },
    {
      "data": {"name": "ens"},
      "mark": {"type": "line", "strokeWidth": 1},
      "encoding": {
        "x": {"field": "h", "type": "quantitative"},
        "y": {
          "field": "v", "type": "quantitative",
          "axis": {"orient": "left", "values": [-10, -5, 0, 5, 10, 15], "grid": true, "gridColor": "#dcdcdc",
                   "domain": false, "ticks": false, "labelPadding": 13, "labelFontSize": 10, "labelColor": "#666666", "title": null}
        },
        "detail": {"field": "m"},
        "color": {
          "datum": "Verstoorde runs",
          "scale": {"domain": ["Verstoorde runs", "Controle", "Hoge resolutie", "Middelste (P50)"],
                    "range": ["rgba(25,140,25,0.55)", "#111111", "#e2231a", "#b3452e"]},
          "legend": {"title": null, "orient": "none", "legendX": 108, "legendY": 266, "direction": "horizontal",
                     "labelFontSize": 11, "labelColor": "#333333", "symbolType": "stroke", "symbolSize": 196,
                     "symbolStrokeWidth": 2, "columnPadding": 13, "labelOffset": 4}
        },
        "strokeDash": {
          "datum": "Verstoorde runs",
          "scale": {"domain": ["Verstoorde runs", "Controle", "Hoge resolutie", "Middelste (P50)"],
                    "range": [[1, 0], [6, 3], [1, 0], [6, 4]]},
          "legend": {"title": null, "orient": "none", "legendX": 108, "legendY": 266, "direction": "horizontal",
                     "labelFontSize": 11, "labelColor": "#333333", "symbolType": "stroke", "symbolSize": 196,
                     "symbolStrokeWidth": 2, "columnPadding": 13, "labelOffset": 4}
        }
      }
    },
    {
      "data": {"name": "ctl"},
      "mark": {"type": "line", "strokeWidth": 2},
      "encoding": {
        "x": {"field": "h", "type": "quantitative"},
        "y": {"field": "v", "type": "quantitative", "axis": null},
        "color": {"datum": "Controle"},
        "strokeDash": {"datum": "Controle"}
      }
    },
    {
      "data": {"name": "hres"},
      "mark": {"type": "line", "strokeWidth": 3},
      "encoding": {
        "x": {"field": "h", "type": "quantitative"},
        "y": {
          "field": "v", "type": "quantitative",
          "axis": {"orient": "right", "values": [-10, -5, 0, 5, 10, 15], "grid": false,
                   "domain": false, "ticks": false, "labelPadding": 7, "labelFontSize": 10, "labelColor": "#666666", "title": null}
        },
        "color": {"datum": "Hoge resolutie"},
        "strokeDash": {"datum": "Hoge resolutie"}
      }
    },
    {
      "data": {"name": "p50"},
      "mark": {"type": "line", "strokeWidth": 2},
      "encoding": {
        "x": {"field": "h", "type": "quantitative"},
        "y": {"field": "v", "type": "quantitative", "axis": null},
        "color": {"datum": "Middelste (P50)"},
        "strokeDash": {"datum": "Middelste (P50)"}
      }
    }
  ],
  "resolve": {"axis": {"y": "independent"}}
}
